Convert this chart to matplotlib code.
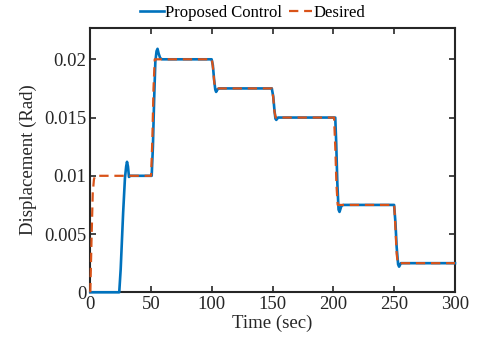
import matplotlib.pyplot as plt

plt.rcParams['font.family'] = ['Liberation Serif', 'DejaVu Serif']

# desired reference trajectory
t_desired = [0, 1, 2, 3, 4, 50, 51, 52, 53, 100, 101, 102, 103, 149.5, 150.5, 151.5, 152.5,
             200.5, 201.5, 202.5, 203.5, 250, 251, 252, 253, 300]
desired = [0, 0.0045, 0.0085, 0.0097, 0.01, 0.01, 0.013, 0.0175, 0.02, 0.02, 0.0192, 0.018, 0.0175,
           0.0175, 0.0167, 0.0155, 0.015, 0.015, 0.0125, 0.0092, 0.0075, 0.0075, 0.0055, 0.0033, 0.0025, 0.0025]

# response of the proposed controller
t_proposed = [0, 23.8, 25, 27, 28.5, 29.5, 30.2, 31, 31.8, 33, 50.5, 51.5, 52.5, 53.5, 54.5, 55.3,
              56.2, 57.5, 59, 99.8, 100.8, 101.8, 102.8, 103.5, 104.5, 106,
              149.3, 150.5, 151.5, 152.3, 153, 154.5, 201.5, 202.3, 203.2, 204.2, 205, 206.5, 208,
              249.9, 251, 252, 253.2, 254, 255.5, 300]
proposed = [0, 0, 0.002, 0.0068, 0.0098, 0.0108, 0.0112, 0.0108, 0.0099, 0.01, 0.01, 0.0125, 0.0165, 0.0198,
            0.0207, 0.0209, 0.0205, 0.0201, 0.02, 0.02, 0.0195, 0.0183, 0.0174, 0.0172, 0.0174, 0.0175,
            0.0175, 0.0168, 0.0156, 0.0149, 0.0148, 0.015, 0.015, 0.0128, 0.0094, 0.0071, 0.0069, 0.0074, 0.0075,
            0.0075, 0.006, 0.0039, 0.0024, 0.0022, 0.0025, 0.0025]

x_ticks = [0, 50, 100, 150, 200, 250, 300]
y_ticks = [0, 0.005, 0.01, 0.015, 0.02]
y_tick_labels = ['0', '0.005', '0.01', '0.015', '0.02']

fig = plt.figure(figsize=(4.78, 3.45), dpi=100)
ax = fig.add_axes([90.3 / 478, 1 - 292.3 / 345, (455 - 90.3) / 478, (292.3 - 27.5) / 345])

ax.plot(t_proposed, proposed, color='#0072BD', lw=1.9, label='Proposed Control',
        clip_on=False, zorder=3)
ax.plot(t_desired, desired, color='#D95319', lw=1.6, dashes=(4.2, 2.6), label='Desired',
        clip_on=False, zorder=4)

ax.set_xlim(0, 300)
ax.set_ylim(0, 0.02273)
ax.set_xticks(x_ticks)
ax.set_yticks(y_ticks)
ax.set_yticklabels(y_tick_labels)
ax.tick_params(direction='in', length=4, width=1.2, top=True, right=True,
               labelsize=13.5, colors='#262626', pad=3)
for s in ax.spines.values():
    s.set_linewidth(1.5)
    s.set_color('#262626')
    s.set_zorder(2)

ax.set_xlabel('Time (sec)', fontsize=13.5, color='#262626', labelpad=1)
ax.set_ylabel('Displacement (Rad)', fontsize=13.5, color='#262626', labelpad=5)

fig.legend(loc='center', bbox_to_anchor=(253 / 478, 1 - 13 / 345), ncol=2, frameon=False,
           fontsize=12, handlelength=1.4, handletextpad=0.1, columnspacing=0.4,
           borderaxespad=0, borderpad=0)

fig.savefig('out.png', dpi=100)
